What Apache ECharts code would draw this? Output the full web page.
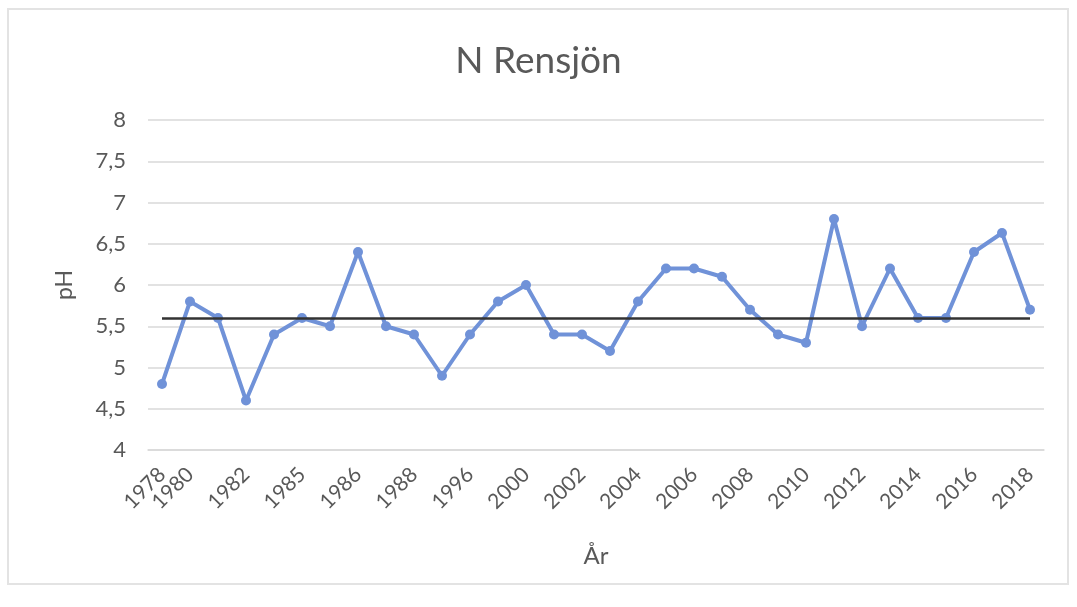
<!DOCTYPE html>
<html>
<head>
<meta charset="utf-8">
<script src="https://cdn.jsdelivr.net/npm/echarts@6/dist/echarts.min.js"></script>
<style>
  html, body { margin: 0; padding: 0; background: #fff; }
  .frame {
    position: absolute; left: 7px; top: 8px; width: 1062px; height: 577px;
    border: 2px solid #e3e3e3; box-sizing: border-box;
  }
  .chart { position: absolute; left: 0; top: 0; width: 1077px; height: 607px; }
</style>
</head>
<body>
<div class="frame"></div>
<div class="chart"></div>
<script>
// år (bara varannan etikett visas i originalet)
const years = ['1978', '1980', '1981', '1982', '1984', '1985', '1985', '1986', '1987', '1988',
  '1990', '1996', '1998', '2000', '2001', '2002', '2003', '2004', '2005', '2006', '2007',
  '2008', '2009', '2010', '2011', '2012', '2013', '2014', '2015', '2016', '2017', '2018']
// pH-värden
const phValues = [4.8, 5.8, 5.6, 4.6, 5.4, 5.6, 5.5, 6.4, 5.5, 5.4,
  4.9, 5.4, 5.8, 6.0, 5.4, 5.4, 5.2, 5.8, 6.2, 6.2, 6.1,
  5.7, 5.4, 5.3, 6.8, 5.5, 6.2, 5.6, 5.6, 6.4, 6.63, 5.7]
// svart referenslinje
const referenceLevel = 5.6
const yTicks = { min: 4, max: 8, interval: 0.5 }

;(function () {
  let myChart = echarts.init(document.querySelector('.chart'))
  let font = 'Lato, "Noto Sans", sans-serif'
  let labelStyle = {
    rotate: 45,
    fontSize: 21,
    color: '#595959',
    margin: 21,
    hideOverlap: false,
    showMinLabel: true,
    showMaxLabel: true
  }
  let option = {
    textStyle: { fontFamily: font },
    title: {
      text: 'N Rensjön',
      left: 'center',
      top: 38,
      textStyle: { fontSize: 37, fontWeight: 'normal', color: '#595959', fontFamily: font }
    },
    grid: { left: 148, right: 33, top: 120, bottom: 157 },
    xAxis: [
      {
        type: 'category',
        data: years,
        position: 'bottom',
        boundaryGap: true,
        name: 'År',
        nameLocation: 'middle',
        nameGap: 94,
        nameTextStyle: { fontSize: 24, color: '#595959' },
        axisTick: { show: false },
        axisLine: { lineStyle: { color: '#d9d9d9', width: 1.5 } },
        // varannan kategori (udda index)
        axisLabel: Object.assign({}, labelStyle, {
          interval: function (index) { return index % 2 === 1 }
        })
      },
      {
        // andra axeln ritar bara första etiketten (1978), som överlappar 1980
        type: 'category',
        data: years,
        position: 'bottom',
        boundaryGap: true,
        axisTick: { show: false },
        axisLine: { show: false },
        splitLine: { show: false },
        axisLabel: Object.assign({}, labelStyle, {
          interval: function (index) { return index === 0 }
        })
      }
    ],
    yAxis: {
      type: 'value',
      min: yTicks.min,
      max: yTicks.max,
      interval: yTicks.interval,
      name: 'pH',
      nameLocation: 'middle',
      nameGap: 72,
      nameRotate: 90,
      nameTextStyle: { fontSize: 23, color: '#595959' },
      axisLine: { show: false },
      axisTick: { show: false },
      axisLabel: {
        fontSize: 22,
        color: '#595959',
        margin: 22,
        formatter: function (v) { return String(v).replace('.', ',') }
      },
      splitLine: { lineStyle: { color: '#d9d9d9', width: 1.5 } }
    },
    series: [
      {
        name: 'pH',
        type: 'line',
        xAxisIndex: 0,
        data: phValues,
        symbol: 'circle',
        symbolSize: 10,
        lineStyle: { color: '#7092d8', width: 4 },
        itemStyle: { color: '#7092d8' },
        z: 2,
        markLine: {
          silent: true,
          symbol: 'none',
          label: { show: false },
          lineStyle: { color: '#333333', width: 2.5, type: 'solid' },
          data: [[{ coord: [0, referenceLevel] }, { coord: [years.length - 1, referenceLevel] }]]
        }
      }
    ]
  }
  myChart.setOption(option)
  window.addEventListener('resize', function () {
    myChart.resize()
  })
})()
</script>
</body>
</html>
